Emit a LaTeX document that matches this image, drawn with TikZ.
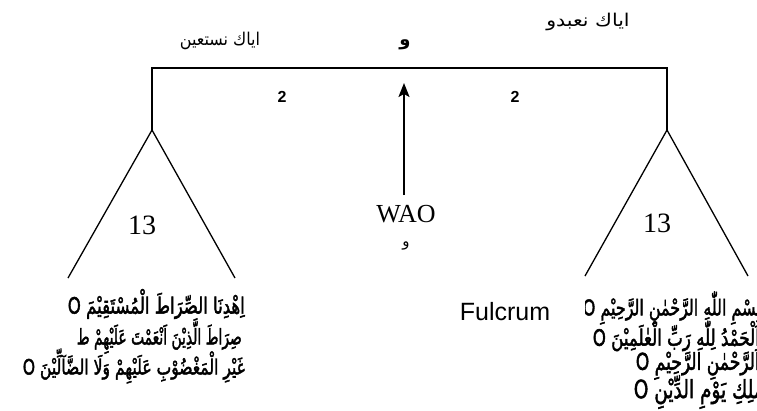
\documentclass[tikz,border=0pt]{standalone}
\usepackage{fontspec}
\setmainfont{Liberation Serif}
\newfontfamily\sansf{Liberation Sans}
\newfontfamily\arabicfont[Script=Arabic]{DejaVu Sans}
\newfontfamily\quranfont[Script=Arabic, FakeBold=2.2]{DejaVu Sans}
\TeXXeTstate=1
\usetikzlibrary{arrows.meta}
\newcommand{\qline}[3][1.35]{\resizebox{#2}{!}{\scalebox{1}[#1]{#3}}}
\tikzset{
  lab/.style={inner sep=0pt},
  arlab/.style={inner sep=0pt, font=\arabicfont\fontsize{16}{18}\selectfont},
  numlab/.style={inner sep=0pt, font=\fontsize{28}{30}\selectfont},
  twolab/.style={inner sep=0pt, font=\sansf\bfseries\fontsize{16}{18}\selectfont},
  quran/.style={inner sep=0pt, anchor=east, font=\quranfont\fontsize{13}{16}\selectfont},
  frame/.style={line width=1.3pt, line join=miter},
}
\begin{document}
\begin{tikzpicture}[x=1pt,y=-1pt]
\useasboundingbox (0,0) rectangle (757,410);
% skeleton
\coordinate (bl) at (152,68);
\coordinate (br) at (667,68);
\coordinate (la) at (152,130);
\coordinate (ra) at (667,130);
\coordinate (ll) at (68,278);
\coordinate (lr) at (235,278);
\coordinate (rl) at (585,276);
\coordinate (rr) at (748,276);
\draw[frame] (la) -- (bl) -- (br) -- (ra);
\draw[frame] (ll) -- (la) -- (lr);
\draw[frame] (rl) -- (ra) -- (rr);
% arrow
\coordinate (ab) at (404,195);
\coordinate (at) at (404,83);
\draw[line width=1.5pt, -{Stealth[length=14pt,width=11pt,inset=3pt]}] (ab) -- (at);
% top labels
\node[arlab] (nasta) at (220,41) {\scalebox{1}[1.1]{\beginR اياك نستعين\endR}};
\node[arlab] (nabud) at (588,22) {\scalebox{1.28}[1.1]{\beginR اياك نعبدو\endR}};
\node[arlab, font=\arabicfont\bfseries\fontsize{18}{20}\selectfont] (wtop) at (405,45) {\beginR و\endR};
\node[twolab] (twoL) at (282,97) {2};
\node[twolab] (twoR) at (515,97) {2};
% numbers
\node[numlab] (thL) at (142,225) {13};
\node[numlab] (thR) at (657,223) {13};
\node[lab, font=\fontsize{26}{28}\selectfont] (wao) at (406,214) {WAO};
\node[arlab, font=\arabicfont\fontsize{15}{18}\selectfont] (wbot) at (406,246) {\beginR و\endR};
\node[lab, font=\sansf\fontsize{25}{27}\selectfont] (fulc) at (505,312) {Fulcrum};
% left verses
\node[quran] (l1) at (245,304) {\qline{177pt}{\beginR اِهْدِنَا الصِّرَاطَ الْمُسْتَقِيْمَ O\endR}};
\node[quran] (l2) at (242,336) {\qline[1.55]{165pt}{\beginR صِرَاطَ الَّذِيْنَ اَنْعَمْتَ عَلَيْهِمْ ط\endR}};
\node[quran] (l3) at (245,366) {\qline{222pt}{\beginR غَيْرِ الْمَغْضُوْبِ عَلَيْهِمْ وَلَا الضَّآلِّيْنَ O\endR}};
% right verses
\begin{scope}
\clip (585,285) rectangle (757,410);
\node[quran] (r1) at (761,308) {\qline{178pt}{\beginR بِسْمِ اللّٰهِ الرَّحْمٰنِ الرَّحِيْمِ O\endR}};
\node[quran] (r2) at (760,336) {\qline{167pt}{\beginR اَلْحَمْدُ لِلّٰهِ رَبِّ الْعٰلَمِيْنَ O\endR}};
\node[quran] (r3) at (760,364) {\qline{124pt}{\beginR اَلرَّحْمٰنِ الرَّحِيْمِ O\endR}};
\node[quran] (r4) at (764,392) {\qline{130pt}{\beginR مٰلِكِ يَوْمِ الدِّيْنِ O\endR}};
\end{scope}
\end{tikzpicture}
\end{document}
